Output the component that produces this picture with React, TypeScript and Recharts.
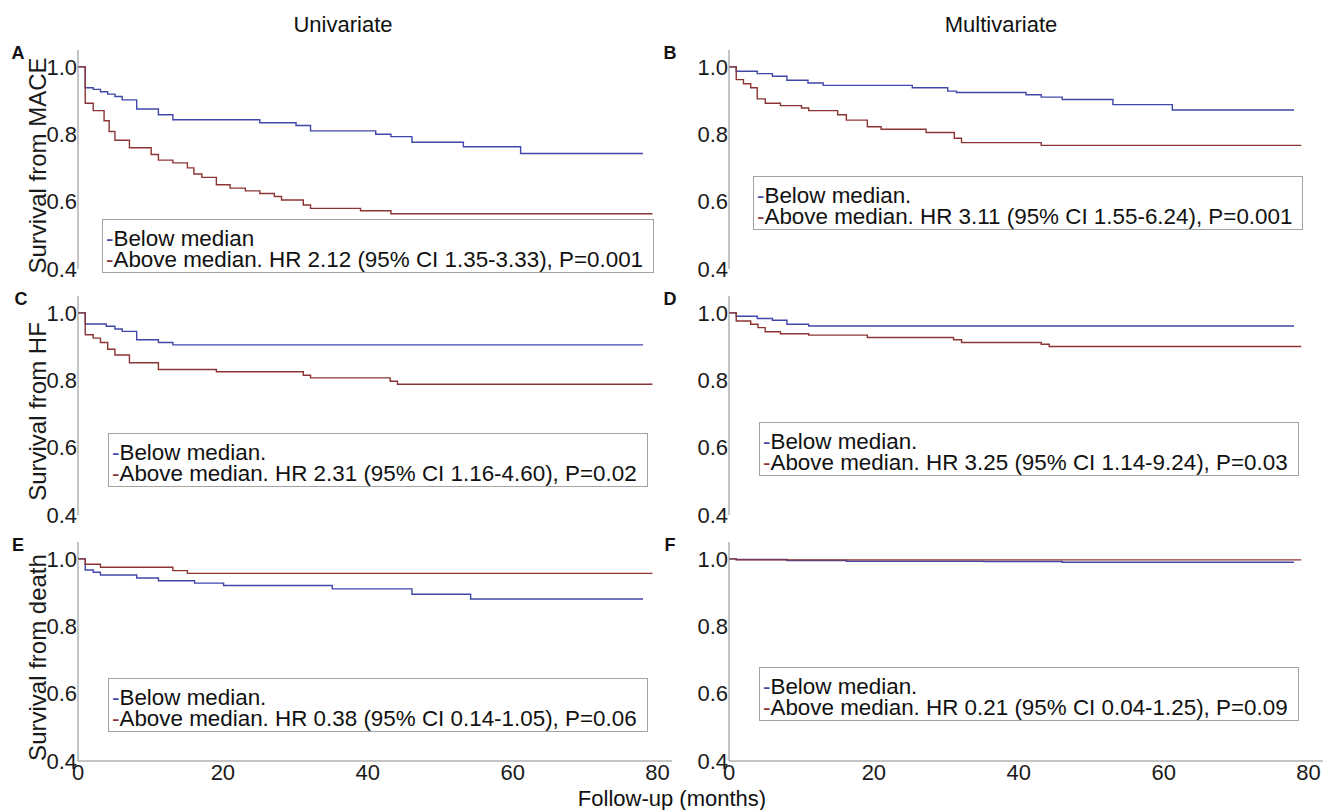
import React from "react";
import { LineChart, Line, XAxis, YAxis, Legend, Label } from "recharts";

type Pt = [number, number];

// Kaplan-Meier steps: [months, survival]
const aBelow: Pt[] = [[0, 1], [1, 0.938], [2.1, 0.933], [3.1, 0.926], [4.1, 0.919], [5.1, 0.912], [6.1, 0.902], [8.1, 0.875], [11.1, 0.858], [13.1, 0.843], [25.1, 0.834], [30.1, 0.826], [32.1, 0.81], [41.1, 0.8], [43.2, 0.793], [46.1, 0.776], [53.2, 0.763], [61.1, 0.743], [78, 0.743]];
const aAbove: Pt[] = [[0, 1], [1, 0.892], [2.1, 0.87], [3.6, 0.84], [4.3, 0.808], [5.1, 0.782], [7.1, 0.76], [10.1, 0.74], [11.1, 0.723], [13.1, 0.715], [15.1, 0.7], [16, 0.682], [17.1, 0.672], [19.1, 0.65], [21, 0.64], [23.1, 0.632], [25.1, 0.624], [27.1, 0.615], [28.1, 0.605], [31.1, 0.59], [32.1, 0.58], [39, 0.573], [43.2, 0.564], [79.3, 0.564]];

const bBelow: Pt[] = [[0, 1], [1, 0.987], [3.9, 0.98], [6, 0.972], [8, 0.96], [10.9, 0.952], [13, 0.945], [25.3, 0.938], [30.2, 0.928], [31.4, 0.924], [41, 0.917], [43.1, 0.91], [46, 0.903], [53, 0.888], [61.2, 0.872], [78, 0.872]];
const bAbove: Pt[] = [[0, 1], [1, 0.962], [2, 0.95], [3, 0.938], [3.9, 0.905], [5, 0.892], [7.1, 0.885], [10, 0.878], [11, 0.87], [15, 0.858], [16.2, 0.842], [19.1, 0.822], [21, 0.815], [27.2, 0.805], [31.1, 0.788], [32.1, 0.775], [43.1, 0.767], [79, 0.767]];

const cBelow: Pt[] = [[0, 1], [1, 0.967], [3.9, 0.96], [5.1, 0.952], [6.1, 0.945], [8.1, 0.92], [11.1, 0.912], [13.1, 0.905], [78, 0.905]];
const cAbove: Pt[] = [[0, 1], [1, 0.935], [2.1, 0.925], [3.1, 0.912], [4.1, 0.892], [5.1, 0.875], [7.1, 0.852], [11.1, 0.832], [19.1, 0.825], [31.1, 0.815], [32.1, 0.807], [43.1, 0.797], [44.1, 0.788], [79.3, 0.788]];

const dBelow: Pt[] = [[0, 1], [1, 0.99], [3.9, 0.983], [6, 0.978], [8, 0.966], [11, 0.961], [78, 0.961]];
const dAbove: Pt[] = [[0, 1], [1, 0.976], [3, 0.966], [4, 0.956], [5, 0.944], [7.1, 0.938], [11, 0.934], [19.1, 0.927], [31, 0.92], [32.1, 0.912], [43.1, 0.907], [44.2, 0.9], [79, 0.9]];

const eBelow: Pt[] = [[0, 1], [1, 0.967], [2.1, 0.96], [3.1, 0.952], [8.1, 0.943], [11.1, 0.935], [16.1, 0.928], [20.1, 0.921], [35.1, 0.911], [46.1, 0.895], [54.2, 0.881], [78, 0.881]];
const eAbove: Pt[] = [[0, 1], [1, 0.984], [3.1, 0.975], [13.1, 0.965], [15.1, 0.957], [79.3, 0.957]];

const fBelow: Pt[] = [[0, 1], [1, 0.998], [8, 0.995], [16.2, 0.993], [35.2, 0.992], [46, 0.99], [78, 0.99]];
const fAbove: Pt[] = [[0, 1], [1, 0.997], [79, 0.997]];

const yTicks = [0.4, 0.6, 0.8, 1.0];
const xTicks = [0, 20, 40, 60, 80];

const BLUE = "#3f47a8";
const RED = "#8c3434";
const FONT = "'Liberation Sans', Arial, sans-serif";

const panels = [
  { id: "A", col: 0, row: 0, below: aBelow, above: aAbove, yLabel: "Survival from MACE", belowText: "Below median", aboveText: "Above median. HR 2.12 (95% CI 1.35-3.33), P=0.001", legend: [102, 180] },
  { id: "B", col: 1, row: 0, below: bBelow, above: bAbove, yLabel: "", belowText: "Below median.", aboveText: "Above median. HR 3.11 (95% CI 1.55-6.24), P=0.001", legend: [102, 137] },
  { id: "C", col: 0, row: 1, below: cBelow, above: cAbove, yLabel: "Survival from HF", belowText: "Below median.", aboveText: "Above median. HR 2.31 (95% CI 1.16-4.60), P=0.02", legend: [108, 148] },
  { id: "D", col: 1, row: 1, below: dBelow, above: dAbove, yLabel: "", belowText: "Below median.", aboveText: "Above median. HR 3.25 (95% CI 1.14-9.24), P=0.03", legend: [108, 137] },
  { id: "E", col: 0, row: 2, below: eBelow, above: eAbove, yLabel: "Survival from death", belowText: "Below median.", aboveText: "Above median. HR 0.38 (95% CI 0.14-1.05), P=0.06", legend: [108, 147] },
  { id: "F", col: 1, row: 2, below: fBelow, above: fAbove, yLabel: "", belowText: "Below median.", aboveText: "Above median. HR 0.21 (95% CI 0.04-1.25), P=0.09", legend: [108, 136] },
];

type PanelDef = (typeof panels)[number];

const toRows = (pts: Pt[]) => pts.map(([t, s]) => ({ t, s }));

function Panel({ p }: { p: PanelDef }) {
  const left = p.col === 0 ? 0 : 651;
  const width = p.col === 0 ? 680 : 672;
  const showX = p.row === 2;
  const top = 40 + 246 * p.row;
  const height = showX ? 269 : 245;

  const renderYLabel = (props: any) => {
    const vb = props.viewBox || {};
    const cx = 37;
    const cy = (vb.y ?? 10) + (vb.height ?? 219) / 2 + 6;
    return (
      <text x={cx} y={cy} transform={`rotate(-90 ${cx} ${cy})`} textAnchor="middle" dominantBaseline="central" fontSize={24} fill="#1a1a1a">
        {p.yLabel}
      </text>
    );
  };

  const renderLegend = (props: any) => {
    const items = [...(props.payload || [])].sort((a: any) => (a.value === p.belowText ? -1 : 1));
    return (
      <div style={{ border: "1px solid #a3a3a3", background: "#fff", padding: "8px 10px 2px 3px", fontSize: 22.4, lineHeight: "21px", color: "#111", whiteSpace: "nowrap" }}>
        {items.map((e: any) => (
          <div key={e.value}>
            <span style={{ color: e.color }}>-</span>
            {e.value}
          </div>
        ))}
      </div>
    );
  };

  return (
    <div style={{ position: "absolute", left, top }}>
      <LineChart width={width} height={height} margin={{ top: 10, right: p.col === 0 ? 8 : 0, bottom: showX ? 0 : 16, left: 0 }}>
        <XAxis
          dataKey="t"
          type="number"
          domain={[0, 82]}
          ticks={xTicks}
          interval={0}
          allowDataOverflow
          hide={!showX}
          height={40}
          tickLine={false}
          tickSize={0}
          tickMargin={3}
          axisLine={{ stroke: "#8a8a8a" }}
          tick={{ fill: "#1a1a1a", fontSize: 22 }}
        />
        <YAxis
          type="number"
          domain={[0.4, 1.05]}
          ticks={yTicks}
          interval={0}
          allowDataOverflow
          width={78}
          tickLine={false}
          tickSize={0}
          tickMargin={1}
          axisLine={{ stroke: "#8a8a8a" }}
          tick={{ fill: "#1a1a1a", fontSize: 22 }}
          tickFormatter={(v: number) => v.toFixed(1)}
        >
          {p.yLabel ? <Label content={renderYLabel} /> : null}
        </YAxis>
        <Line data={toRows(p.below)} dataKey="s" name={p.belowText} type="stepAfter" stroke={BLUE} strokeWidth={1.4} dot={false} activeDot={false} isAnimationActive={false} />
        <Line data={toRows(p.above)} dataKey="s" name={p.aboveText} type="stepAfter" stroke={RED} strokeWidth={1.4} dot={false} activeDot={false} isAnimationActive={false} />
        <Legend
          verticalAlign="middle"
          layout="horizontal"
          align="center"
          wrapperStyle={{ left: p.legend[0], top: p.legend[1] - 1, width: "auto", height: "auto" }}
          content={renderLegend}
        />
      </LineChart>
    </div>
  );
}

const letterPos: Record<string, [number, number]> = {
  A: [18, 53], B: [670, 53], C: [21, 299], D: [670, 299], E: [18, 545], F: [670, 545],
};

function Overlay({ text, x, y, size, bold }: { text: string; x: number; y: number; size: number; bold?: boolean }) {
  return (
    <div style={{ position: "absolute", left: x, top: y, transform: "translate(-50%, -50%)", fontSize: size, fontWeight: bold ? 700 : 400, whiteSpace: "nowrap", color: "#111", lineHeight: 1 }}>
      {text}
    </div>
  );
}

export default function App() {
  return (
    <div style={{ position: "absolute", left: 0, top: 0, width: 1323, height: 810, background: "#fff", fontFamily: FONT, overflow: "hidden" }}>
      <Overlay text="Univariate" x={343} y={25} size={22} />
      <Overlay text="Multivariate" x={1001} y={25} size={22} />
      {panels.map((p) => (
        <Panel key={p.id} p={p} />
      ))}
      {panels.map((p) => (
        <Overlay key={"l" + p.id} text={p.id} x={letterPos[p.id][0]} y={letterPos[p.id][1]} size={18} bold />
      ))}
      <Overlay text="Follow-up (months)" x={672} y={799} size={22} />
    </div>
  );
}
